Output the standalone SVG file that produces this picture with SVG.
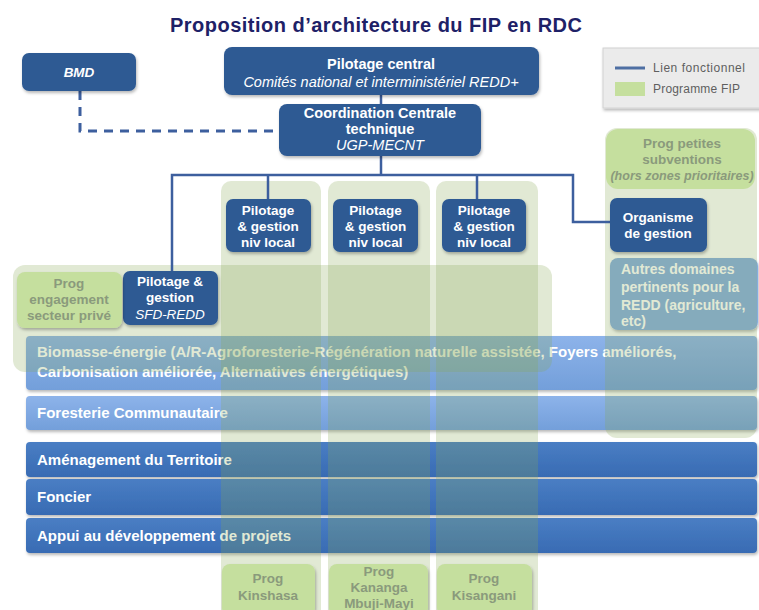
<svg xmlns="http://www.w3.org/2000/svg" width="759" height="610" viewBox="0 0 759 610">
<style>
.node{fill:#2f5a93;filter:url(#sh)}
.prog{fill:#c5df9e;filter:url(#sh)}
.ov{fill:#87a753;fill-opacity:0.25}
.wt{fill:#ffffff;font-family:"Liberation Sans",Arial,sans-serif;font-weight:bold;font-size:13.5px;text-anchor:middle}
.big{font-size:14.5px}
.it{font-style:italic}
.reg{font-weight:normal}
.gt{fill:#8a9a7c;font-family:"Liberation Sans",Arial,sans-serif;font-weight:bold;font-size:13.5px;text-anchor:middle}
.bt{fill:#ffffff;font-family:"Liberation Sans",Arial,sans-serif;font-weight:bold;font-size:15px}
.lg{fill:#5f5f5f;font-family:"Liberation Sans",Arial,sans-serif;font-size:12px}
.ln{fill:none;stroke:#3d5f9e;stroke-width:2.5}
</style>
<defs>
<filter id="sh" x="-10%" y="-10%" width="130%" height="140%">
<feDropShadow dx="1" dy="2" stdDeviation="1.5" flood-color="#000000" flood-opacity="0.28"/>
</filter>
<linearGradient id="gd" x1="0" y1="0" x2="0" y2="1">
<stop offset="0" stop-color="#4a7ec4"/><stop offset="1" stop-color="#386bb3"/>
</linearGradient>
<linearGradient id="gl" x1="0" y1="0" x2="0" y2="1">
<stop offset="0" stop-color="#8db3ea"/><stop offset="1" stop-color="#739fda"/>
</linearGradient>
</defs>
<rect width="759" height="610" fill="#ffffff"/>
<text x="376" y="32" fill="#1e2167" font-family="Liberation Sans,Arial,sans-serif" font-weight="bold" font-size="20px" text-anchor="middle" textLength="412">Proposition d’architecture du FIP en RDC</text>

<g id="bars">
<g id="bar-biomasse"><rect x="26" y="336" width="731" height="54" rx="4" fill="url(#gl)" filter="url(#sh)"/>
<text class="bt" x="37" y="357">Biomasse-énergie (A/R-Agroforesterie-Régénération naturelle assistée, Foyers améliorés,</text>
<text class="bt" x="37" y="377">Carbonisation améliorée, Alternatives énergétiques)</text></g>
<g id="bar-foresterie"><rect x="26" y="396" width="731" height="34" rx="4" fill="url(#gl)" filter="url(#sh)"/>
<text class="bt" x="37" y="418">Foresterie Communautaire</text></g>
<g id="bar-amenagement"><rect x="26" y="442" width="731" height="35" rx="4" fill="url(#gd)" filter="url(#sh)"/>
<text class="bt" x="37" y="465">Aménagement du Territoire</text></g>
<g id="bar-foncier"><rect x="26" y="479" width="731" height="36" rx="4" fill="url(#gd)" filter="url(#sh)"/>
<text class="bt" x="37" y="502">Foncier</text></g>
<g id="bar-appui"><rect x="26" y="518" width="731" height="35" rx="4" fill="url(#gd)" filter="url(#sh)"/>
<text class="bt" x="37" y="541">Appui au développement de projets</text></g>
<g id="autres"><rect x="610" y="258" width="148" height="72" rx="8" fill="#85acdf" filter="url(#sh)"/>
<text class="bt" style="font-size:14px" x="621" y="274">Autres domaines</text>
<text class="bt" style="font-size:14px" x="621" y="292">pertinents pour la</text>
<text class="bt" style="font-size:14px" x="621" y="310">REDD (agriculture,</text>
<text class="bt" style="font-size:14px" x="621" y="326">etc)</text></g>
</g>

<g id="overlays">
<rect class="ov" x="221" y="181" width="100" height="440" rx="10"/>
<rect class="ov" x="328" y="181" width="102" height="440" rx="10"/>
<rect class="ov" x="436" y="181" width="102" height="440" rx="10"/>
<rect class="ov" x="13" y="265" width="539" height="107" rx="12"/>
<rect class="ov" x="605" y="128" width="152" height="310" rx="12"/>
</g>

<g id="connectors">
<polyline class="ln" points="381,95 381,104"/>
<polyline class="ln" points="381,156 381,175"/>
<polyline class="ln" points="172,271 172,175 573,175 573,222 610,222"/>
<polyline class="ln" points="268,175 268,199"/>
<polyline class="ln" points="477,175 477,199"/>
<polyline fill="none" stroke="#3d5f9e" stroke-width="3" stroke-dasharray="9,7" points="80,91 80,131 279,131"/>
</g>

<g id="legend">
<rect x="603" y="48" width="160" height="60" fill="#ebebeb" stroke="#d2d2d2" filter="url(#sh)"/>
<line x1="615" y1="68" x2="645" y2="68" stroke="#4e6fa3" stroke-width="3"/>
<text class="lg" x="653" y="72" textLength="92">Lien fonctionnel</text>
<rect x="615" y="82" width="30" height="14" fill="#c5df9e"/>
<text class="lg" x="653" y="93" textLength="87">Programme FIP</text>
</g>

<g id="bmd"><rect class="node" x="22" y="53" width="114" height="38" rx="7"/>
<text class="wt it" x="79" y="77">BMD</text></g>

<g id="pilotage-central"><rect class="node" x="224" y="47" width="315" height="48" rx="8"/>
<text class="wt big" x="381" y="69">Pilotage central</text>
<text class="wt big it reg" x="381" y="87">Comités national et interministériel REDD+</text></g>

<g id="coordination"><rect class="node" x="279" y="104" width="202" height="52" rx="8"/>
<text class="wt big" x="380" y="118">Coordination Centrale</text>
<text class="wt big" x="380" y="134">technique</text>
<text class="wt big it reg" x="380" y="150">UGP-MECNT</text></g>

<g id="pilotage-local-1"><rect class="node" x="226" y="199" width="85" height="53" rx="7"/>
<text class="wt" x="268" y="215">Pilotage</text>
<text class="wt" x="268" y="231">&amp; gestion</text>
<text class="wt" x="268" y="247">niv local</text></g>

<g id="pilotage-local-2"><rect class="node" x="333" y="199" width="85" height="53" rx="7"/>
<text class="wt" x="375.5" y="215">Pilotage</text>
<text class="wt" x="375.5" y="231">&amp; gestion</text>
<text class="wt" x="375.5" y="247">niv local</text></g>

<g id="pilotage-local-3"><rect class="node" x="442" y="199" width="84" height="53" rx="7"/>
<text class="wt" x="484" y="215">Pilotage</text>
<text class="wt" x="484" y="231">&amp; gestion</text>
<text class="wt" x="484" y="247">niv local</text></g>

<g id="sfd-redd"><rect class="node" x="123" y="271" width="95" height="54" rx="7"/>
<text class="wt" x="170" y="286">Pilotage &amp;</text>
<text class="wt" x="170" y="302">gestion</text>
<text class="wt it reg" x="170" y="319">SFD-REDD</text></g>

<g id="organisme"><rect class="node" x="610" y="198" width="97" height="54" rx="7"/>
<text class="wt" x="658" y="222">Organisme</text>
<text class="wt" x="658" y="238">de gestion</text></g>

<g id="prog-engagement"><rect class="prog" x="17" y="272" width="105" height="56" rx="8"/>
<text class="gt" x="69" y="288">Prog</text>
<text class="gt" x="69" y="304">engagement</text>
<text class="gt" x="69" y="320">secteur privé</text></g>

<g id="prog-petites"><rect x="606" y="129" width="149" height="60" rx="12" fill="#c5df9e"/>
<text class="gt" x="682" y="148">Prog petites</text>
<text class="gt" x="682" y="164">subventions</text>
<text class="gt it reg" style="font-size:12.5px" x="682" y="180">(hors zones prioritaires)</text></g>

<g id="prog-kinshasa"><rect class="prog" x="222" y="564" width="93" height="52" rx="8"/>
<text class="gt" x="268" y="583">Prog</text>
<text class="gt" x="268" y="600">Kinshasa</text></g>

<g id="prog-kananga"><rect class="prog" x="329" y="564" width="99" height="52" rx="8"/>
<text class="gt" x="379" y="576">Prog</text>
<text class="gt" x="379" y="592">Kananga</text>
<text class="gt" x="379" y="608">Mbuji-Mayi</text></g>

<g id="prog-kisangani"><rect class="prog" x="437" y="564" width="95" height="52" rx="8"/>
<text class="gt" x="484" y="583">Prog</text>
<text class="gt" x="484" y="600">Kisangani</text></g>
</svg>
